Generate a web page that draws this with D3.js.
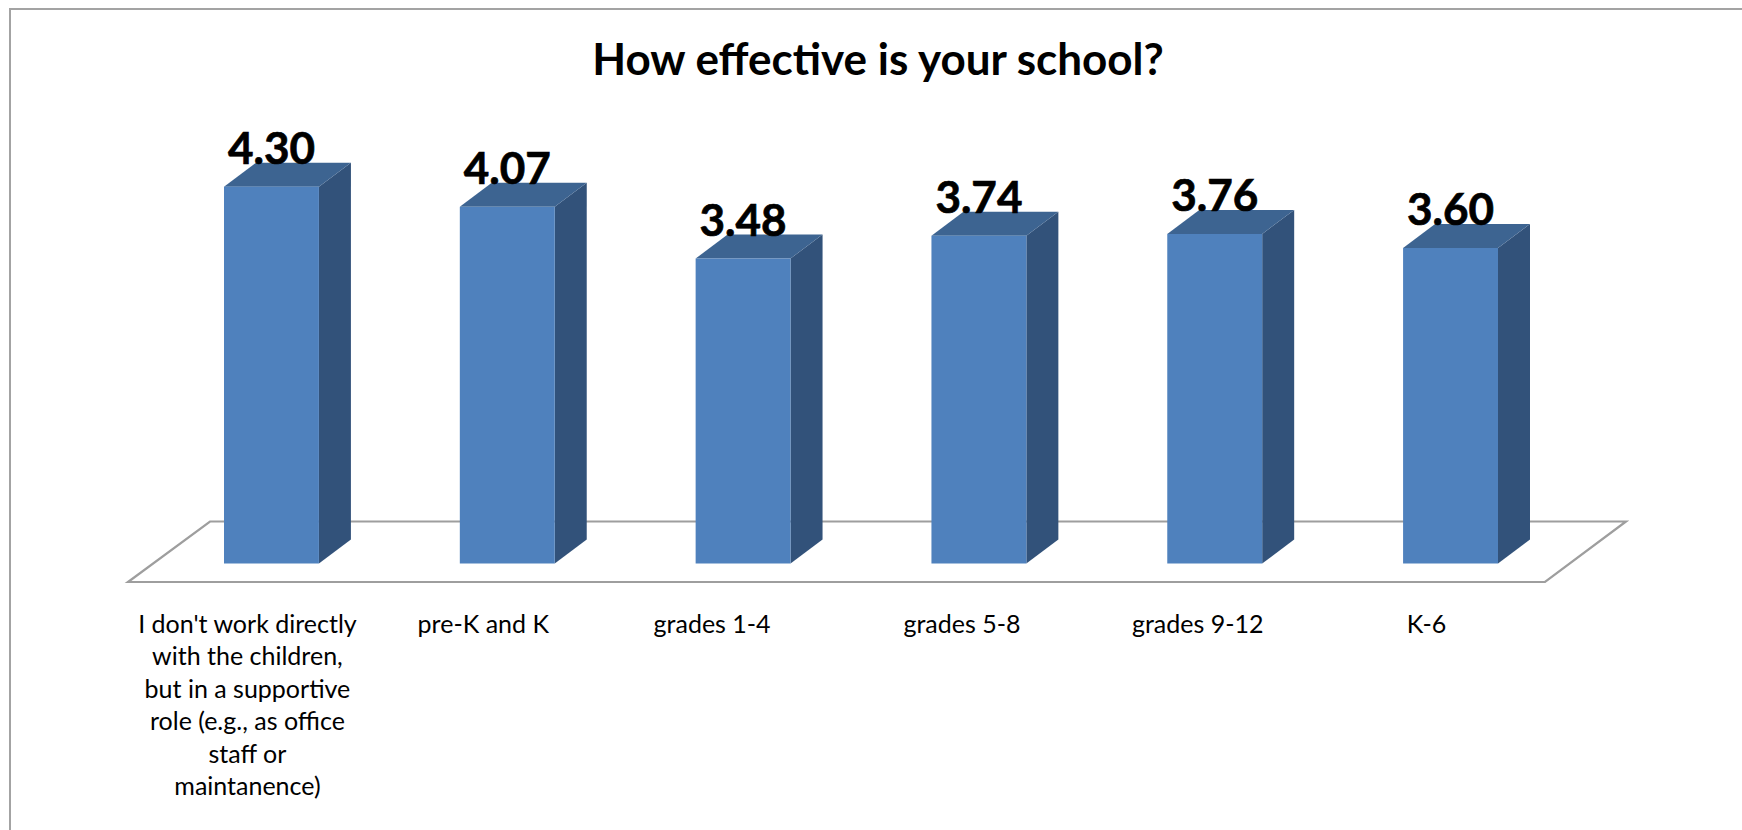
<!DOCTYPE html>
<html><head><meta charset="utf-8">
<script src="https://cdn.jsdelivr.net/npm/d3@7"></script>
<style>html,body{margin:0;padding:0;background:#fff;overflow:hidden}svg{display:block}text{font-family:Lato,"Open Sans",sans-serif;fill:#000}</style>
</head><body><svg id="chart" width="1742" height="830"></svg>
<script>
const categories = ["I don't work directly|with the children,|but in a supportive|role (e.g., as office|staff or|maintanence)","pre-K and K","grades 1-4","grades 5-8","grades 9-12","K-6"];
const values = [4.30,4.07,3.48,3.74,3.76,3.60];
const chartTitle = "How effective is your school?";

const W=1742,H=830,depthX=32,depthY=24;
const labelShift=[-24,-24,-31,-17,-17,-24];
const x=d3.scaleBand().domain(categories).range([224,1498]).paddingInner(0.5975).paddingOuter(0);
const y=d3.scaleLinear().domain([0,3.6]).range([563.5,248]);
const svg=d3.select("#chart");

svg.append("path").attr("d",`M10,${H} V9 H${W}`).attr("fill","none").attr("stroke","#a3a3a3").attr("stroke-width",2);
svg.append("text").attr("x",878).attr("y",75).attr("text-anchor","middle").attr("font-size",44).attr("font-weight",700).text(chartTitle);

const floor=[[128,582],[1545,582],[1626,521.5],[210,521.5]];
svg.append("path").attr("d",d3.line()(floor)+"Z").attr("fill","#fff").attr("stroke","#9e9e9e").attr("stroke-width",2.2);

const bars=svg.selectAll("g.bar").data(values).join("g").attr("class","bar");
const bx=(d,i)=>x(categories[i]);
const bw=x.bandwidth();
bars.append("path").attr("fill","#32527a").attr("d",(d,i)=>{const r=bx(d,i)+bw,t=y(d),b=y(0);
  return d3.line()([[r,t],[r+depthX,t-depthY],[r+depthX,b-depthY],[r,b]])+"Z";});
bars.append("path").attr("fill","#3d6491").attr("d",(d,i)=>{const l=bx(d,i),r=l+bw,t=y(d);
  return d3.line()([[l,t],[l+depthX,t-depthY],[r+depthX,t-depthY],[r,t]])+"Z";});
bars.append("rect").attr("x",(d,i)=>bx(d,i)).attr("y",d=>y(d)).attr("width",bw).attr("height",d=>y(0)-y(d)).attr("fill","#4f81bd");
bars.append("text").attr("x",(d,i)=>bx(d,i)+bw/2).attr("y",d=>y(d)-depthY+1).attr("text-anchor","middle").attr("font-size",44).attr("font-weight",700).attr("stroke","#000").attr("stroke-width",0.7).text(d=>d.toFixed(2));

svg.selectAll("g.cat").data(categories).join("g").attr("class","cat").each(function(c,i){
  const g=d3.select(this),cx=x(c)+bw/2+labelShift[i];
  c.split("|").forEach((line,j)=>g.append("text").attr("x",cx).attr("y",633+j*32.4).attr("text-anchor","middle").attr("font-size",25).text(line));
});
</script></body></html>
